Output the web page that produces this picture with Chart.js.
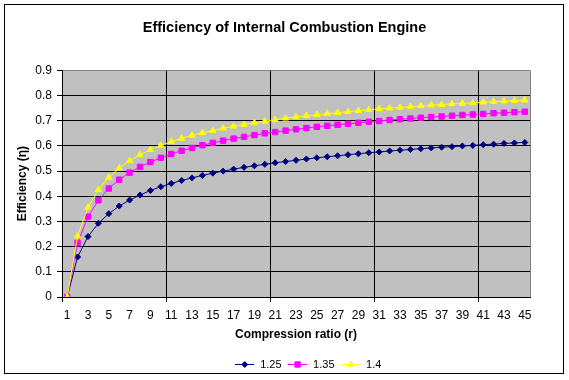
<!DOCTYPE html>
<html>
<head>
<meta charset="utf-8">
<script src="https://cdn.jsdelivr.net/npm/chart.js@4/dist/chart.umd.min.js"></script>
<style>
html,body{margin:0;padding:0;background:#fff}
#wrap{width:569px;height:380px;position:relative}
</style>
</head>
<body>
<div id="wrap"><canvas id="c" width="569" height="380"></canvas></div>
<script>
// ---- data ----
const compressionRatios = [1,2,3,4,5,6,7,8,9,10,11,12,13,14,15,16,17,18,19,20,21,22,23,24,25,26,27,28,29,30,31,32,33,34,35,36,37,38,39,40,41,42,43,44,45];
const seriesNames = ['1.25', '1.35', '1.4'];
const eff125 = [0,0.159,0.240,0.293,0.331,0.361,0.385,0.405,0.423,0.438,0.451,0.463,0.473,0.483,0.492,0.500,0.508,0.515,0.521,0.527,0.533,0.538,0.543,0.548,0.553,0.557,0.561,0.565,0.569,0.573,0.576,0.580,0.583,0.586,0.589,0.592,0.595,0.597,0.600,0.602,0.605,0.607,0.610,0.612,0.614];
const eff135 = [0,0.215,0.319,0.384,0.431,0.466,0.494,0.517,0.536,0.553,0.568,0.581,0.592,0.603,0.612,0.621,0.629,0.636,0.643,0.650,0.655,0.661,0.666,0.671,0.676,0.680,0.684,0.688,0.692,0.696,0.699,0.703,0.706,0.709,0.712,0.715,0.717,0.720,0.723,0.725,0.727,0.730,0.732,0.734,0.736];
const eff140 = [0,0.242,0.356,0.426,0.475,0.512,0.541,0.565,0.585,0.602,0.617,0.630,0.642,0.652,0.661,0.670,0.678,0.685,0.692,0.698,0.704,0.710,0.715,0.720,0.724,0.728,0.732,0.736,0.740,0.744,0.747,0.750,0.753,0.756,0.759,0.762,0.764,0.767,0.769,0.771,0.774,0.776,0.778,0.780,0.782];
const yMin = 0, yMax = 0.9, yStep = 0.1;

// ---- styles ----
const colors = ['#000080', '#FF00FF', '#FFFF00'];
const pointStyles = ['rectRot', 'rect', 'triangle'];
const pointRadii = [3, 3.8, 3.6];

Chart.defaults.font.family = "'Liberation Sans', Arial, sans-serif";
Chart.defaults.color = '#000';

function makeIcon(i) {
  const c = document.createElement('canvas');
  c.width = 19; c.height = 9;
  const g = c.getContext('2d');
  g.strokeStyle = colors[i]; g.fillStyle = colors[i]; g.lineWidth = 1;
  g.beginPath(); g.moveTo(0, 4.5); g.lineTo(19, 4.5); g.stroke();
  Chart.helpers.drawPoint(g, {pointStyle: pointStyles[i], radius: pointRadii[i], rotation: 0, borderWidth: 1}, 9.5, 4.5);
  return c;
}
const icons = [0,1,2].map(makeIcon);

const framePlugin = {
  id: 'frame',
  afterLayout(chart) {
    if (chart.titleBlock) { chart.titleBlock.left += 19.5; chart.titleBlock.right += 19.5; }
    if (chart.legend) { chart.legend.left += 43; chart.legend.right += 43; }
  },
  beforeDraw(chart) {
    const {ctx, chartArea: a} = chart;
    ctx.save();
    ctx.fillStyle = '#fff';
    ctx.fillRect(0, 0, chart.width, chart.height);
    ctx.fillStyle = '#C0C0C0';
    ctx.fillRect(a.left, a.top, a.right - a.left, a.bottom - a.top);
    ctx.strokeStyle = '#000'; ctx.lineWidth = 1;
    ctx.strokeRect(4.5, 4.5, 559, 369);
    ctx.restore();
  }
};

function ds(i, data, order) {
  return {
    label: seriesNames[i], data: data, order: order,
    borderColor: colors[i], backgroundColor: colors[i], borderWidth: 1,
    pointStyle: pointStyles[i], pointRadius: pointRadii[i], pointHoverRadius: pointRadii[i],
    pointBorderWidth: 1, pointBackgroundColor: colors[i], pointBorderColor: colors[i],
    fill: false, tension: 0
  };
}

new Chart(document.getElementById('c'), {
  type: 'line',
  data: {
    labels: compressionRatios,
    datasets: [ds(0, eff125, 3), ds(1, eff135, 2), ds(2, eff140, 1)]
  },
  plugins: [framePlugin],
  options: {
    responsive: false,
    animation: false,
    layout: {padding: {left: 0, right: 39, top: 0, bottom: 0}},
    plugins: {
      tooltip: {enabled: false},
      title: {
        display: true,
        text: 'Efficiency of Internal Combustion Engine',
        color: '#000',
        font: {size: 14.5, weight: 'bold'},
        padding: {top: 19, bottom: 34}
      },
      legend: {
        position: 'bottom',
        labels: {
          usePointStyle: true,
          pointStyleWidth: 20,
          padding: 6,
          color: '#000',
          font: {size: 11},
          sort: (a, b) => a.datasetIndex - b.datasetIndex,
          generateLabels(chart) {
            const items = Chart.defaults.plugins.legend.labels.generateLabels(chart);
            items.forEach(it => { it.pointStyle = icons[it.datasetIndex]; });
            return items;
          }
        }
      }
    },
    scales: {
      x: {
        type: 'category',
        offset: true,
        grid: {
          offset: true,
          lineWidth: 1,
          tickLength: 5,
          color: (ctx) => {
            if (ctx.index === undefined) return '#808080';
            return (ctx.index > 0 && ctx.index % 10 === 0) ? '#000' : 'rgba(0,0,0,0)';
          },
          tickColor: (ctx) => {
            if (ctx.index === undefined) return 'rgba(0,0,0,0)';
            return (ctx.index % 10 === 0) ? '#000' : 'rgba(0,0,0,0)';
          }
        },
        border: {color: '#000', width: 1},
        ticks: {
          autoSkip: false, maxRotation: 0, minRotation: 0, padding: 6,
          color: '#000', font: {size: 12},
          callback: function(val, index) { return index % 2 === 0 ? this.getLabelForValue(val) : ''; }
        },
        title: {display: true, text: 'Compression ratio (r)', color: '#000', font: {size: 12, weight: 'bold'}, padding: {top: 0, bottom: 11}},
        afterFit(s) { s.height = 56; }
      },
      y: {
        min: yMin, max: yMax,
        ticks: {stepSize: yStep, padding: 5, color: '#000', font: {size: 12}},
        grid: {
          lineWidth: 1, tickLength: 5, tickColor: '#000',
          color: (ctx) => (ctx.tick && Math.abs(ctx.tick.value - yMax) < 1e-9) ? '#808080' : '#000'
        },
        border: {color: '#000', width: 1},
        title: {display: true, text: 'Efficiency (η)', color: '#000', font: {size: 12, weight: 'bold'}, padding: {top: 15, bottom: 0}},
        afterFit(s) { s.width = 62; }
      }
    }
  }
});
</script>
</body>
</html>
